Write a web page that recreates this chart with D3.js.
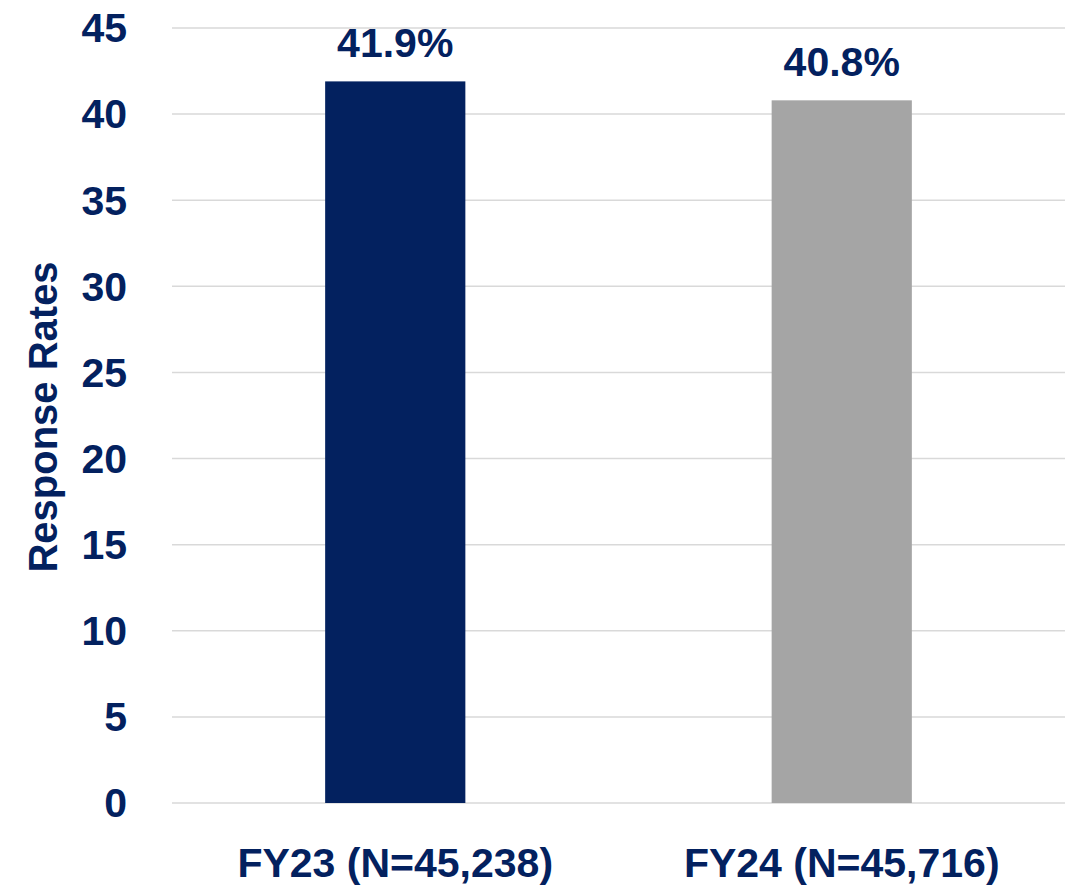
<!DOCTYPE html>
<html>
<head>
<meta charset="utf-8">
<script src="https://cdn.jsdelivr.net/npm/d3@7"></script>
<style>
	body { margin: 0; background: #fff; }
	text { font-family: "Liberation Sans", Arial, sans-serif; font-weight: bold; }
</style>
</head>
<body>
<script>
"use strict";

//chart data
const categories = ["FY23 (N=45,238)", "FY24 (N=45,716)"];
const rates = [41.9, 40.8];
const valueLabels = ["41.9%", "40.8%"];
const yTicks = [0, 5, 10, 15, 20, 25, 30, 35, 40, 45];
const barColors = ["#03215F", "#A5A5A5"];

const width = 1076, height = 888;
const navy = "#03215F";
const plotLeft = 172, plotRight = 1065, plotTop = 28, plotBottom = 803;

let svg = d3.select("body").append("svg")
	.attr("width", width)
	.attr("height", height);

let x = d3.scaleBand()
	.domain(categories)
	.range([plotLeft, plotRight])
	.paddingInner(0.686)
	.paddingOuter(0.343);

let y = d3.scaleLinear()
	.domain([0, 45])
	.range([plotBottom, plotTop]);

//gridlines
svg.append("g")
	.selectAll("line")
	.data(yTicks)
	.join("line")
	.attr("x1", plotLeft)
	.attr("x2", plotRight)
	.attr("y1", d => y(d))
	.attr("y2", d => y(d))
	.attr("stroke", "#d9d9d9")
	.attr("stroke-width", 1.5);

//y tick labels
svg.append("g")
	.selectAll("text")
	.data(yTicks)
	.join("text")
	.attr("x", 127)
	.attr("y", d => y(d))
	.attr("dy", "0.35em")
	.attr("text-anchor", "end")
	.attr("font-size", 41)
	.attr("fill", navy)
	.text(d => d);

//bars
svg.append("g")
	.selectAll("rect")
	.data(rates)
	.join("rect")
	.attr("x", (d, i) => x(categories[i]))
	.attr("width", x.bandwidth())
	.attr("y", d => y(d))
	.attr("height", d => y(0) - y(d))
	.attr("fill", (d, i) => barColors[i]);

//value labels
svg.append("g")
	.selectAll("text")
	.data(rates)
	.join("text")
	.attr("x", (d, i) => x(categories[i]) + x.bandwidth() / 2)
	.attr("y", d => y(d) - 24)
	.attr("text-anchor", "middle")
	.attr("font-size", 41)
	.attr("fill", navy)
	.text((d, i) => valueLabels[i]);

//category labels
svg.append("g")
	.selectAll("text")
	.data(categories)
	.join("text")
	.attr("x", d => x(d) + x.bandwidth() / 2)
	.attr("y", 877)
	.attr("text-anchor", "middle")
	.attr("font-size", 41)
	.attr("fill", navy)
	.text(d => d);

//axis title
svg.append("text")
	.attr("transform", "translate(57,417) rotate(-90)")
	.attr("text-anchor", "middle")
	.attr("font-size", 40)
	.attr("fill", navy)
	.text("Response Rates");
</script>
</body>
</html>
